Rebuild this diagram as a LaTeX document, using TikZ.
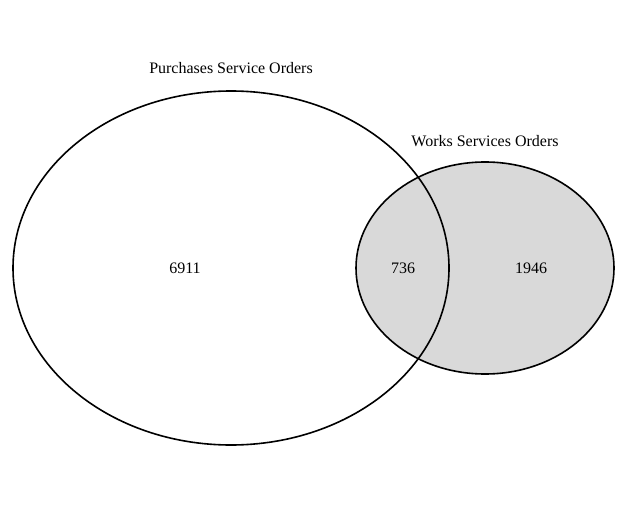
\documentclass[tikz,border=0pt]{standalone}
\usepackage{fontspec}
\setmainfont{Liberation Serif}
\usetikzlibrary{shapes}

\begin{document}
\begin{tikzpicture}[x=1pt,y=-1pt]
				\tikzstyle{setline}=[line width=1.6pt,black]
				\tikzstyle{every node}=[font=\fontsize{16}{18}\selectfont,inner sep=0pt]
				\useasboundingbox (0,0) rectangle (628,513);
				% works services orders (filled)
				\draw[setline,fill=gray!30] (485,268) ellipse [x radius=129pt, y radius=106pt];
				% purchases service orders
				\draw[setline] (231,268) ellipse [x radius=218pt, y radius=177pt];
				\node (pso) at (231,68) {Purchases Service Orders};
				\node (wso) at (485,141) {Works Services Orders};
				\node (only-pso) at (185,268) {6911};
				\node (both) at (403,268) {736};
				\node (only-wso) at (531,268) {1946};
\end{tikzpicture}
\end{document}
